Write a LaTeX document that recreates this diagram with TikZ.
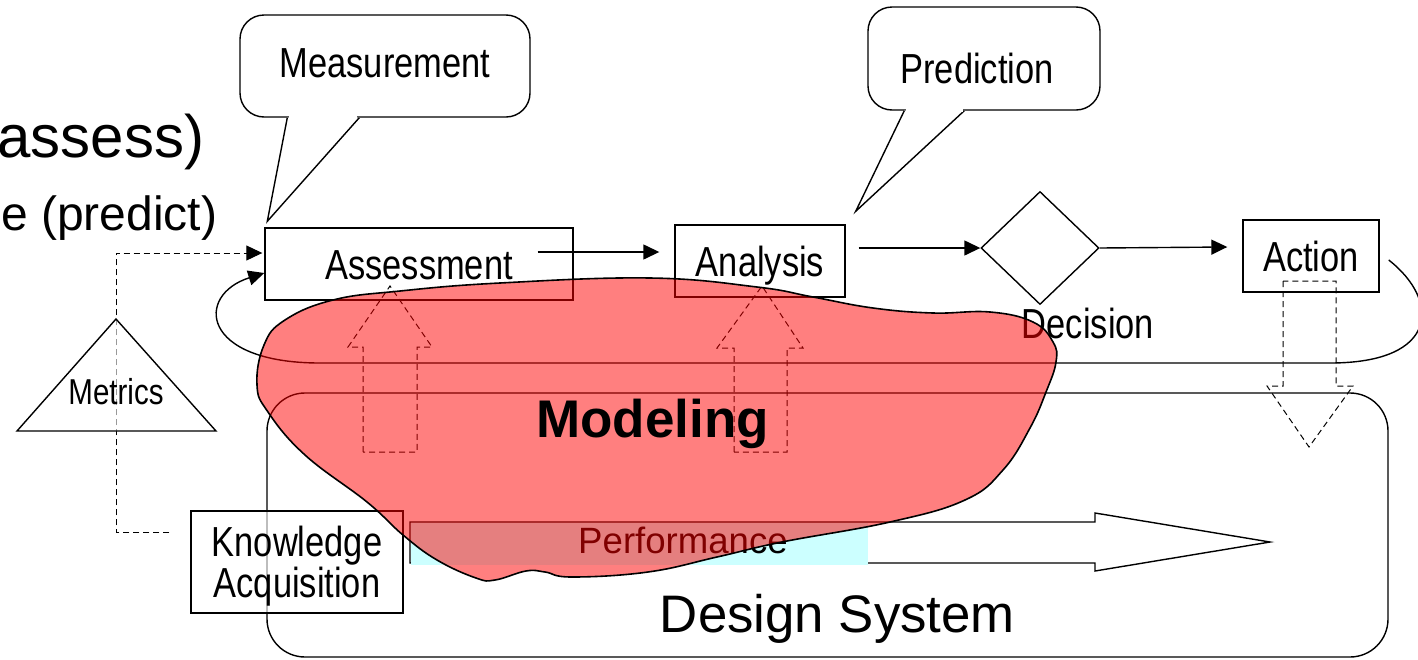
\documentclass[tikz,border=0pt]{standalone}
\usepackage{fontspec}
\setmainfont{Liberation Sans}
\newfontfamily\narrowfont[FakeStretch=0.82]{Liberation Sans}
\usepackage{tikz}
\usetikzlibrary{shapes.geometric, arrows.meta}
\definecolor{perfcyan}{HTML}{CCFFFF}

\tikzset{
  stage/.style={draw, line width=0.7pt, inner sep=0pt, font=\narrowfont\fontsize{21}{20.5}\selectfont, text height=15pt, text depth=0pt},
  bubble/.style={stage, rounded corners=12pt, fill=white},
  flow/.style={line width=0.7pt, -{Triangle[length=8pt,width=7.5pt]}},
  hint/.style={line width=0.5pt, dash pattern=on 3pt off 2pt},
}

\begin{document}
\begin{tikzpicture}[x=0.5pt, y=-0.5pt, line width=0.7pt]
  \useasboundingbox (0,0) rectangle (1418,659);
  \clip (0,0) rectangle (1418,659);

  % design system frame
  \draw[rounded corners=19pt] (267,393) rectangle (1388,657);
  \node[anchor=base, font=\fontsize{26.4}{30}\selectfont] (dsys) at (837.5,632) {Design System};

  % process chain
  \node[stage, minimum width=154pt, minimum height=36pt] (assess) at (419,264) {Assessment};
  \node[stage, minimum width=85pt, minimum height=36pt] (ana) at (760,261) {Analysis};
  \node[stage, diamond, minimum width=59pt, minimum height=56.5pt, text height=0pt] (dec) at (1040,248) {};
  \node[stage, draw=none, anchor=base] (declabel) at (1088,338) {Decision};
  \node[stage, minimum width=68pt, minimum height=36pt] (act) at (1311,256) {Action};

  \draw[flow] ([xshift=-18pt,yshift=6pt]assess.east) -- ([xshift=-7.5pt,yshift=4.5pt]ana.west);
  \draw[flow] ([xshift=6.5pt,yshift=6.5pt]ana.east) -- (dec.west);
  \draw[flow] (dec.east) -- ([xshift=-7.5pt,yshift=4.5pt]act.west);

  % feedback loop
  \coordinate (loopR) at (1330,363);
  \coordinate (loopL) at (320,363);
  \draw[flow] ([xshift=4.5pt,yshift=-2pt]act.east) .. controls (1440,300) and (1440,363) .. (loopR)
    -- (loopL) .. controls (200,363) and (195,295) .. ([yshift=-4.5pt]assess.west);

  % dashed block arrows
  \draw[hint] (363,452) -- (363,347) -- (348,347) -- (390,286) -- (432,347) -- (417,347) -- (417,452) -- cycle;
  \draw[hint] (734,452) -- (734,348) -- (717,348) -- (762,286) -- (803,348) -- (787,348) -- (787,452) -- cycle;
  \draw[hint] (1283,281) -- (1283,386) -- (1267,386) -- (1309,447) -- (1353,386) -- (1336,386) -- (1336,281) -- cycle;

  % performance arrow
  \draw (410,522) -- (1095,522) -- (1095,513) -- (1270,542) -- (1095,571) -- (1095,563) -- (410,563) -- cycle;
  \fill[perfcyan] (410.8,522.8) rectangle (868,565);
  \node[anchor=base, font=\fontsize{18.3}{20}\selectfont] (perf) at (683,553) {Performance};

  % knowledge and metrics
  \node[stage, align=center, fill=white, fill opacity=0.6, text opacity=1, minimum width=106pt, minimum height=51pt, text height=35.5pt] (know) at (297,562) {Knowledge\\Acquisition};
  \coordinate (mtop) at (116,319);
  \draw[hint, -{Triangle[length=8pt,width=7.5pt]}] ([xshift=-10.5pt,yshift=15pt]know.west) -| (mtop) |- ([xshift=-1pt,yshift=5.5pt]assess.west);
  \draw[fill=white, fill opacity=0.6] (mtop) -- (17,431) -- (216,431) -- cycle;
  \node[anchor=base, font=\narrowfont\fontsize{18}{20}\selectfont] (metrics) at (116,404) {Metrics};

  % callouts
  \node[bubble, minimum width=145pt, minimum height=51pt, text depth=4pt] (meas) at (385,66) {Measurement};
  \coordinate (mtip) at ([xshift=1.5pt,yshift=3pt]assess.north west);
  \draw[fill=white] ([xshift=24pt]meas.south west) -- (mtip) -- ([xshift=60pt]meas.south west);
  \fill[white] ([xshift=24.6pt,yshift=0.7pt]meas.south west) rectangle ([xshift=59pt,yshift=-0.5pt]meas.south west);

  \node[bubble, minimum width=116pt, minimum height=51.5pt, text height=25pt] (pred) at (984,58.5) {\hspace*{-7pt}Prediction};
  \coordinate (ptip) at ([xshift=5pt,yshift=6.5pt]ana.north east);
  \draw[fill=white] ([xshift=18.5pt]pred.south west) -- (ptip) -- ([xshift=48.5pt]pred.south west);
  \fill[white] ([xshift=19.1pt,yshift=0.7pt]pred.south west) rectangle ([xshift=47.8pt,yshift=-0.5pt]pred.south west);

  % slide text cut at the left
  \node[anchor=base east, inner sep=0pt, font=\fontsize{30}{34}\selectfont] (assesstxt) at (205,157) {assess)};
  \node[anchor=base east, inner sep=0pt, font=\fontsize{24}{28}\selectfont] (predicttxt) at (218,230) {e (predict)};

  % modeling blob
  \draw[fill=red, fill opacity=0.5, line width=0.8pt] plot[smooth cycle, tension=0.7] coordinates {
    (257,385) (264,345) (285,320) (333,300) (400,291) (500,283) (650,278) (757,287) (813,297)
    (873,308) (933,313) (990,312) (1033,322) (1053,342) (1056,362) (1046,392) (1030,428)
    (1003,470) (965,500) (890,522) (782,542) (717,557) (648,572) (572,577) (545,572)
    (526,571) (495,580) (476,578) (437,560) (403,535) (367,502) (305,455) (268,412)};
  \node[anchor=base, font=\bfseries\fontsize{26.5}{30}\selectfont] (model) at (652.5,437) {Modeling};
\end{tikzpicture}
\end{document}
